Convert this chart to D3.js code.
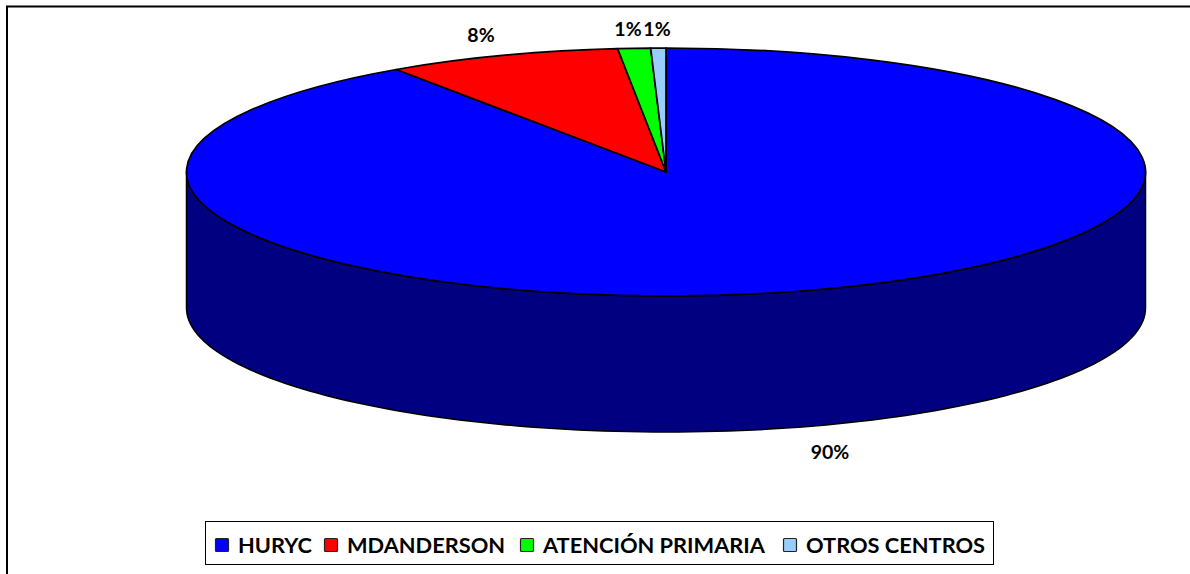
<!DOCTYPE html>
<html><head><meta charset="utf-8">
<script src="https://cdn.jsdelivr.net/npm/d3@7"></script>
<style>html,body{margin:0;padding:0;background:#fff}svg{display:block}text{font-family:Lato,"Open Sans",sans-serif;font-weight:700;fill:#000}</style>
</head><body><svg id="c" width="1190" height="574"></svg>
<script>
const categories=["HURYC","MDANDERSON","ATENCIÓN PRIMARIA","OTROS CENTROS"];
const seriesValues=[90.49,7.9,1.1,0.51];
const percentLabels=["90%","8%","1%","1%"];
const colours=["#0000ff","#ff0000","#00ff00","#99ccff"];
const sideColour="#000080";

const svg=d3.select("#c");
const cx=666,cy=172,rx=479.5,ry=124,depth=136;
const yr=ry/rx;
const pts=(a0,a1,dy)=>d3.range(0,121).map(i=>{const t=a0+(a1-a0)*i/120;return [cx+rx*Math.sin(t),cy-ry*Math.cos(t)+dy];});
const line=d3.line();

// frame: top and left edges only
svg.append("path").attr("d","M7,574V6.5H1190").attr("fill","none").attr("stroke","#000").attr("stroke-width",2);

// extruded side (front half of the ellipse)
const pie=d3.pie().sort(null).value(d=>d);
const arcs=pie(seriesValues);
const front=pts(Math.PI/2,Math.PI*1.5,0);
const back=pts(Math.PI*1.5,Math.PI/2,depth);
svg.append("path").attr("d",line(front.concat(back))+"Z").attr("fill",sideColour).attr("stroke","#000").attr("stroke-width",1.5).attr("stroke-linejoin","round");

// top face
const arc=d3.arc().innerRadius(0).outerRadius(rx);
svg.append("g").attr("transform",`translate(${cx},${cy}) scale(1,${yr})`)
 .selectAll("path").data(arcs).join("path")
 .attr("d",arc).attr("fill",(d,i)=>colours[i])
 .attr("stroke","#000").attr("stroke-width",1.7).attr("stroke-linejoin","round")
 .attr("vector-effect","non-scaling-stroke");

// percent labels
const labelPos=[[830,452],[481,35],[628,29],[657,29]];
svg.append("g").selectAll("text").data(percentLabels).join("text")
 .attr("x",(d,i)=>labelPos[i][0]).attr("y",(d,i)=>labelPos[i][1]+6.5)
 .attr("text-anchor","middle").attr("font-size",19.5).text(d=>d);

// legend
svg.append("rect").attr("x",205.5).attr("y",521.5).attr("width",788).attr("height",43).attr("fill","#fff").attr("stroke","#000").attr("stroke-width",1);
const lx=[215,324,520,783], tx=[238,347,543,806];
const lg=svg.append("g").selectAll("g").data(categories).join("g");
lg.append("rect").attr("x",(d,i)=>lx[i]+0.5).attr("y",538.5).attr("width",13).attr("height",13).attr("rx",1)
 .attr("fill",(d,i)=>colours[i]).attr("stroke","#222").attr("stroke-width",1.2);
lg.append("text").attr("x",(d,i)=>tx[i]).attr("y",553).attr("font-size",21.8).text(d=>d);
</script></body></html>
